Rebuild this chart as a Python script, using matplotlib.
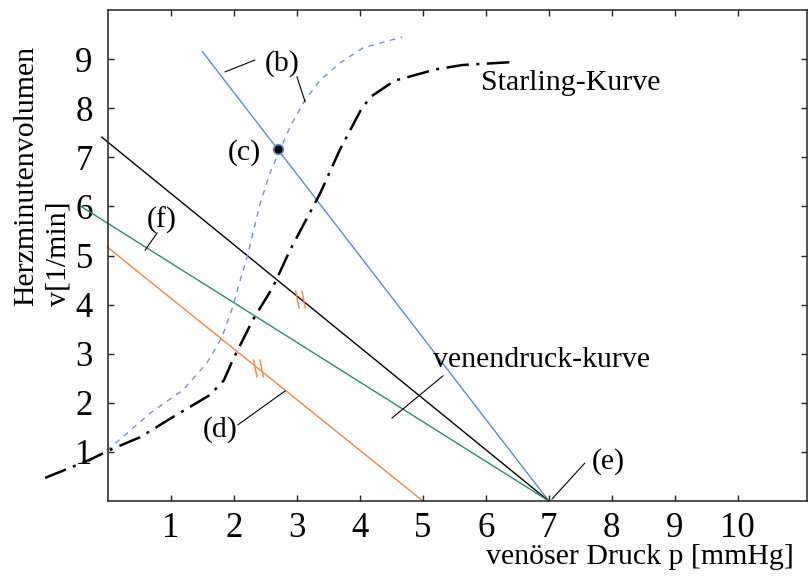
import matplotlib
matplotlib.use('Agg')
import matplotlib.pyplot as plt
from matplotlib.path import Path

plt.rcParams['font.family'] = ['Liberation Serif', 'DejaVu Serif']

# Starling-Kurve (Strich-Punkt)
starling_x = [-1.0, -0.29, 0.03, 0.51, 1.03, 1.62, 1.84, 1.98, 2.30, 2.62, 2.89, 3.37, 3.68, 4.03, 4.18, 4.55, 5.2, 5.63, 6.43]
starling_y = [0.47, 0.84, 1.04, 1.30, 1.71, 2.16, 2.46, 2.87, 3.69, 4.36, 5.11, 6.27, 7.15, 8.00, 8.24, 8.56, 8.79, 8.88, 8.94]

# gestrichelte blaue Kurve
dash_x = [-0.32, 0.03, 0.67, 1.19, 1.57, 1.81, 1.98, 2.10, 2.21, 2.41, 2.57, 2.73, 2.89, 3.13, 3.37, 3.68, 4.05, 4.67]
dash_y = [0.79, 1.08, 1.79, 2.26, 2.81, 3.34, 3.95, 4.50, 4.97, 6.03, 6.68, 7.15, 7.62, 8.17, 8.57, 8.92, 9.23, 9.45]

# Venendruck-Geraden
blue_x, blue_y = [1.5, 7.0], [9.15, 0.0]
black_x, black_y = [-0.1, 7.0], [7.41, 0.0]
green_x, green_y = [-0.43, 7.0], [6.0, 0.0]
orange_x, orange_y = [0.0, 5.0], [5.16, 0.0]

# Arbeitspunkt (c)
point_c = (2.70, 7.16)
# Markierungen "//"
mark_x = [3.05, 2.38]
mark_y = [4.12, 2.70]

x_ticks = list(range(1, 11))
y_ticks = list(range(1, 10))

fig = plt.figure(figsize=(8.11, 5.79), dpi=100)
ax = fig.add_axes((0.1332, 0.1347, 0.8619, 0.848))

ax.plot(blue_x, blue_y, color='#5b88d6', lw=1.0, clip_on=False)
ax.plot(black_x, black_y, color='black', lw=1.0, clip_on=False)
ax.plot(green_x, green_y, color='#2e8a6c', lw=1.0, clip_on=False)
ax.plot(orange_x, orange_y, color='#f5823d', lw=1.0, clip_on=False)
ax.plot(dash_x, dash_y, color='#6b93da', lw=1.0, ls=(0, (4, 4)), clip_on=False)
ax.plot(starling_x, starling_y, color='black', lw=1.8, ls=(0, (9, 3, 1.2, 3)), clip_on=False)

ax.plot([point_c[0]], [point_c[1]], 'o', ms=7, mfc='black', mec='#5b88d6', mew=1.2, zorder=5)

mark = Path([(-0.55, 1), (-0.15, -1), (0.15, 1), (0.55, -1)],
            [Path.MOVETO, Path.LINETO, Path.MOVETO, Path.LINETO])
ax.plot(mark_x, mark_y, ls='none', marker=mark, ms=13, mec='#f5823d', mfc='none', mew=1.0, zorder=4)

# Beschriftungen
fs = 21.5
ax.text(2.76, 8.92, '(b)', fontsize=fs, ha='center', va='center')
ax.plot([2.33, 1.86], [8.98, 8.74], color='black', lw=0.8)
ax.plot([3.0, 3.13], [8.64, 8.13], color='black', lw=0.8)
ax.text(2.17, 7.09, '(c)', fontsize=fs, ha='center', va='center')
ax.text(5.92, 8.51, 'Starling-Kurve', fontsize=fs, ha='left', va='center')
ax.text(0.86, 5.72, '(f)', fontsize=fs, ha='center', va='center')
ax.plot([0.78, 0.59], [5.46, 5.11], color='black', lw=0.8)
ax.text(1.78, 1.45, '(d)', fontsize=fs, ha='center', va='center')
ax.plot([2.06, 2.81], [1.55, 2.24], color='black', lw=0.8)
ax.text(5.16, 2.87, 'venendruck-kurve', fontsize=fs, ha='left', va='center')
ax.plot([4.51, 5.32], [1.69, 2.55], color='black', lw=0.8)
ax.text(7.94, 0.81, '(e)', fontsize=fs, ha='center', va='center')
ax.plot([7.57, 7.05], [0.77, 0.04], color='black', lw=0.8)

ax.set_xlim(0, 11.1)
ax.set_ylim(0, 10)
ax.set_xticks(x_ticks)
ax.set_yticks(y_ticks)
ax.tick_params(direction='in', length=4, width=1, top=True, right=True,
               labelsize=25, colors='#222222', labelcolor='black')
ax.tick_params(axis='y', pad=11)
ax.tick_params(axis='x', pad=8)
for sp in ax.spines.values():
    sp.set_linewidth(1.1)
    sp.set_color('#222222')

fig.text(0.052, 0.696, 'Herzminutenvolumen\nv[1/min]', rotation=90, fontsize=fs,
         ha='center', va='center', multialignment='left', linespacing=1.3)
fig.text(0.979, 0.038, 'venöser Druck p [mmHg]', fontsize=fs, ha='right', va='center')

fig.savefig('out.png', dpi=100)
